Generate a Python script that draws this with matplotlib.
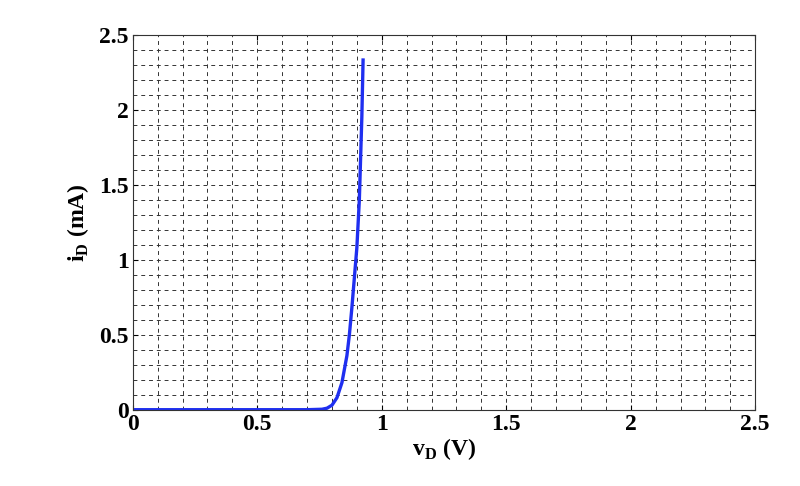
import matplotlib
matplotlib.use('Agg')
import matplotlib.pyplot as plt
import numpy as np

plt.rcParams['font.family'] = 'Liberation Serif'
plt.rcParams['font.weight'] = 'bold'
plt.rcParams['mathtext.fontset'] = 'custom'
plt.rcParams['mathtext.rm'] = 'Liberation Serif:bold'
plt.rcParams['mathtext.bf'] = 'Liberation Serif:bold'

vD = [0.0, 0.70, 0.76, 0.78, 0.80, 0.82, 0.84, 0.86, 0.87, 0.88, 0.89, 0.90, 0.91, 0.92, 0.925]
iD = [0.0, 0.0, 0.003, 0.01, 0.03, 0.08, 0.18, 0.36, 0.50, 0.68, 0.88, 1.08, 1.40, 1.95, 2.33]

fig = plt.figure(figsize=(8, 4.86), dpi=100)
ax = fig.add_axes([0.166, 0.157, 0.778, 0.772])
ax.plot(vD, iD, color='#1f2ff0', lw=2.4)
ax.set_xlim(0, 2.5)
ax.set_ylim(0, 2.5)
ticks = [0, 0.5, 1, 1.5, 2, 2.5]
labels = ['0', '0.5', '1', '1.5', '2', '2.5']
ax.set_xticks(ticks)
ax.set_xticklabels(labels)
ax.set_yticks(ticks)
ax.set_yticklabels(labels)
ax.set_xticks(np.arange(0, 2.51, 0.1), minor=True)
ax.set_yticks(np.arange(0, 2.51, 0.1), minor=True)
ax.grid(which='both', color='#333333', ls=(0, (4, 4)), lw=0.7)
ax.tick_params(which='both', direction='in', labelsize=17, top=True, right=True, pad=3)
ax.tick_params(which='minor', length=0)
ax.set_axisbelow(True)
ax.set_xlabel(r'v$_\mathbf{D}$ (V)', fontsize=17, fontweight='bold', labelpad=1)
ax.set_ylabel(r'i$_\mathbf{D}$ (mA)', fontsize=17, fontweight='bold', labelpad=6)
for s in ax.spines.values():
    s.set_color('#333333')
fig.savefig('out.png', dpi=100)
